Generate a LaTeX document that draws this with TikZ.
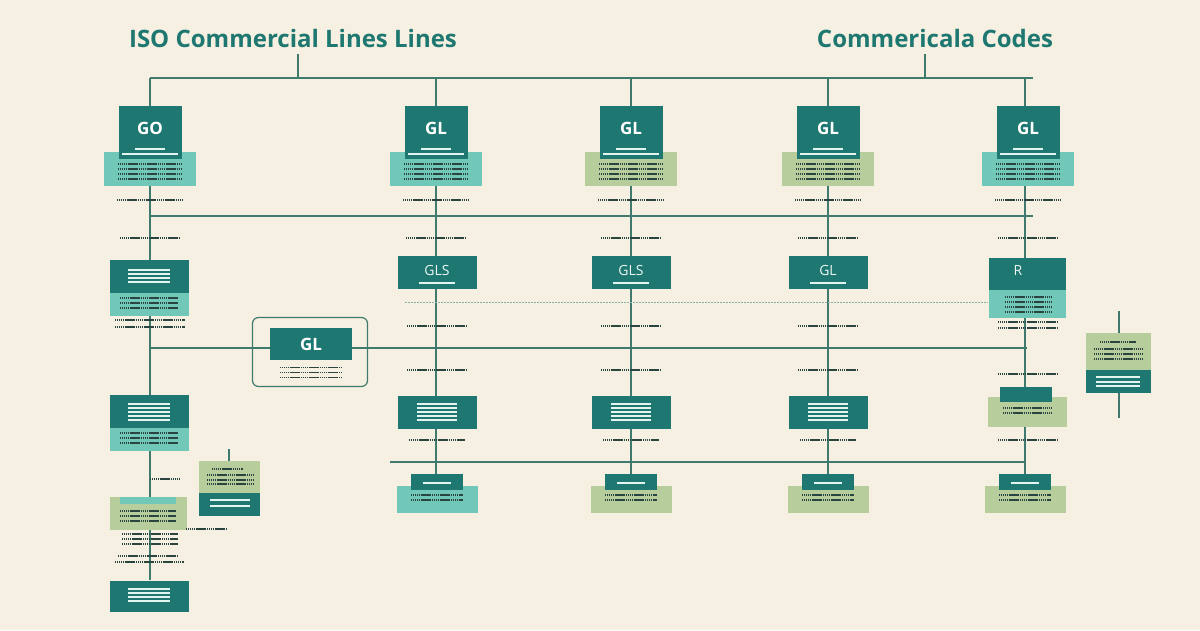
\documentclass[tikz,border=0pt]{standalone}
\usepackage{fontspec}
\setmainfont{Open Sans}
\definecolor{bg}{HTML}{F5F0E1}
\definecolor{dk}{HTML}{1E7770}
\definecolor{lt}{HTML}{72C8B8}
\definecolor{sg}{HTML}{B7CD9C}
\definecolor{ln}{HTML}{3E7B6E}
\definecolor{tx}{HTML}{2A4540}
\begin{document}
\begin{tikzpicture}[x=1pt,y=-1pt,
  dark/.style={fill=dk,draw=none,inner sep=0pt,text=white,font=\bfseries\fontsize{17}{17}\selectfont},
  darkl/.style={dark,font=\fontsize{14}{14}\selectfont,text=white!85!lt},
  light/.style={fill=lt,draw=none,inner sep=0pt},
  sage/.style={fill=sg,draw=none,inner sep=0pt},
  conn/.style={draw=ln,line width=1.4pt},
  thin/.style={draw=ln!60,line width=0.6pt,dash pattern=on 2pt off 1pt},
  tl/.style={draw=white!80!lt,line width=1.2pt,dash pattern=on 1.5pt off 0.5pt},
  td/.style={draw=tx,line width=1.4pt,dash pattern=on 1.4pt off 0.5pt},
  title/.style={text=dk,font=\bfseries\fontsize{24}{24}\selectfont}]
\fill[bg] (0,0) rectangle (1200,630);
\useasboundingbox (0,0) rectangle (1200,630);
% titles
\node[title] (t1) at (293,38) {ISO Commercial Lines Lines};
\node[title] (t2) at (935,38) {Commericala Codes};
\coordinate (b1) at (298,78); \coordinate (b2) at (925,78);
\draw[conn] (298,54) -- (b1); \draw[conn] (925,54) -- (b2);
\draw[conn] (150,78) -- (1033,78);
\draw[conn] (150,216) -- (1033,216);
\draw[conn] (150,348) -- (1027,348);
\draw[conn] (390,462) -- (1025,462);
% column verticals
\draw[conn] (150,78) -- (150,580);
\foreach \x in {436,631,828,1025} \draw[conn] (\x,78) -- (\x,486);
% row 1
\foreach \n/\x/\t/\s in {a/150/GO/light,b/436/GL/light,c/631/GL/sage,d/828/GL/sage,e/1028/GL/light}{
  \node[\s,minimum width=92,minimum height=34] (l1\n) at (\x,169) {};
  \node[dark,minimum width=63,minimum height=53] (d1\n) at (\x,132) {\raisebox{8pt}{\t}};
  \draw[tl] (\x-15,149) -- (\x+15,149);
  \draw[tl,dash pattern=] (\x-28,154) -- (\x+28,154);
  \foreach \yy in {164,169,174,179} \draw[td] (\x-32,\yy) -- (\x+32,\yy);
  \draw[td] (\x-33,200) -- (\x+33,200);
  \draw[td] (\x-30,238) -- (\x+30,238);
}
% row 2
\node[dark,minimum width=79,minimum height=33] (d2a) at (149,276) {};
\node[light,minimum width=79,minimum height=23] (l2a) at (149,304) {};
\foreach \yy in {270,274,278,282} \draw[tl] (128,\yy) -- (170,\yy);
\foreach \yy in {298,303,308} \draw[td] (120,\yy) -- (178,\yy);
\draw[td] (115,320) -- (185,320); \draw[td] (115,327) -- (185,327);
\foreach \n/\x/\t in {b/437/GLS,c/631/GLS,d/828/GL}{
  \node[darkl,minimum width=79,minimum height=33] (d2\n) at (\x,272) {\raisebox{3pt}{\t}};
  \draw[tl] (\x-18,283) -- (\x+18,283);
  \draw[td] (\x-30,326) -- (\x+30,326);
}
\node[dark,minimum width=77,minimum height=32] (d2e) at (1027,274) {};
\node[darkl] (r) at (1018,270) {R};
\node[light,minimum width=77,minimum height=28] (l2e) at (1027,304) {};
\foreach \yy in {297,302,307,312} \draw[td] (1005,\yy) -- (1052,\yy);
\draw[td] (998,322) -- (1058,322); \draw[td] (998,328) -- (1058,328);
\draw[thin] (405,302) -- (988,302);
% middle GL
\node[draw=ln,line width=1.2pt,rounded corners=6pt,minimum width=115,minimum height=69,inner sep=0pt] (og) at (310,352) {};
\node[dark,minimum width=82,minimum height=32] (mg) at (311,344) {GL};
\foreach \yy in {367,372,377} \draw[td,line width=1pt] (280,\yy) -- (342,\yy);
% right side box
\draw[conn] (1119,311) -- (1119,418);
\node[sage,minimum width=65,minimum height=38] (rs) at (1118,352) {};
\node[dark,minimum width=65,minimum height=23] (rd) at (1118,381) {};
\draw[td] (1100,342) -- (1136,342);
\foreach \yy in {349,354,359} \draw[td] (1094,\yy) -- (1143,\yy);
\foreach \yy in {377,382,386} \draw[tl] (1096,\yy) -- (1140,\yy);
% row 3
\node[dark,minimum width=79,minimum height=33] (d3a) at (149,411) {};
\node[light,minimum width=79,minimum height=23] (l3a) at (149,439) {};
\foreach \yy in {404,408,412,416,420} \draw[tl] (128,\yy) -- (170,\yy);
\foreach \yy in {433,438,443} \draw[td] (120,\yy) -- (178,\yy);
\foreach \n/\x in {b/437,c/631,d/828}{
  \node[dark,minimum width=79,minimum height=33] (d3\n) at (\x,412) {};
  \foreach \yy in {404,408,412,416,420} \draw[tl] (\x-20,\yy) -- (\x+20,\yy);
  \draw[td] (\x-30,370) -- (\x+30,370);
  \draw[td] (\x-28,440) -- (\x+28,440);
}
\node[sage,minimum width=79,minimum height=30] (l3e) at (1027,412) {};
\node[dark,minimum width=52,minimum height=15] (d3e) at (1026,394) {};
\foreach \yy in {408,413} \draw[td] (1003,\yy) -- (1052,\yy);
\draw[td] (998,374) -- (1058,374); \draw[td] (998,440) -- (1058,440);
% row 4
\foreach \n/\x/\s in {b/437/light,c/631/sage,d/828/sage,e/1025/sage}{
  \node[\s,minimum width=81,minimum height=27] (l4\n) at (\x,499) {};
  \node[dark,minimum width=52,minimum height=16] (d4\n) at (\x,482) {};
  \draw[tl] (\x-14,483) -- (\x+14,483);
  \foreach \yy in {495,500} \draw[td] (\x-26,\yy) -- (\x+26,\yy);
}
% column 1 lower
\draw[td] (150,479) -- (180,479);
\draw[conn] (229,449) -- (229,461);
\node[sage,minimum width=61,minimum height=32] (cs) at (229,477) {};
\node[dark,minimum width=61,minimum height=23] (cd) at (229,504) {};
\draw[td] (212,469) -- (243,469);
\foreach \yy in {475,480,484} \draw[td] (207,\yy) -- (253,\yy);
\foreach \yy in {500,506} \draw[tl] (210,\yy) -- (250,\yy);
\node[sage,minimum width=77,minimum height=33] (s5) at (148,513) {};
\node[light,minimum width=56,minimum height=7,anchor=north] (s5t) at (148,497) {};
\foreach \yy in {511,516,521} \draw[td] (120,\yy) -- (176,\yy);
\draw[td] (186,529) -- (226,529);
\foreach \yy in {534,539,544} \draw[td] (122,\yy) -- (178,\yy);
\draw[td] (118,556) -- (178,556); \draw[td] (115,562) -- (184,562);
\node[dark,minimum width=79,minimum height=31] (d6a) at (149,596) {};
\foreach \yy in {589,593,597,601} \draw[tl] (128,\yy) -- (170,\yy);
\end{tikzpicture}
\end{document}
